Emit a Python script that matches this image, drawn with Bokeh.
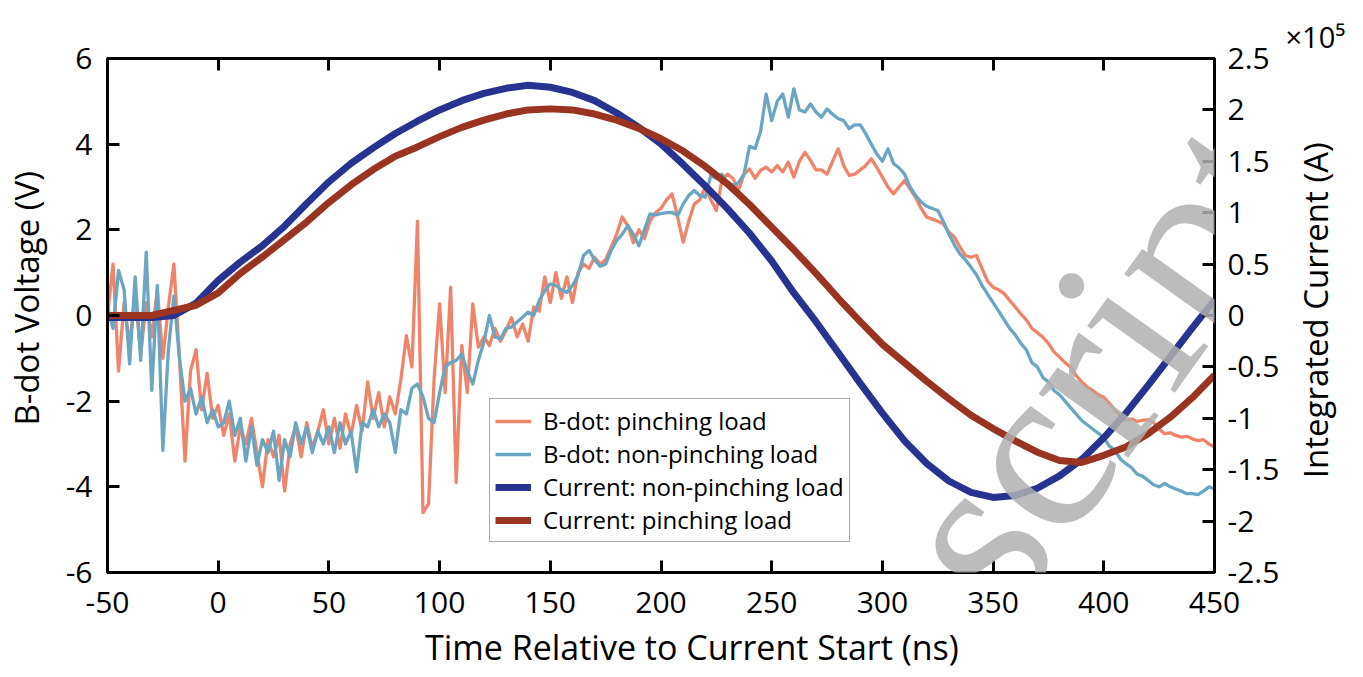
import math
import numpy as np
from bokeh.plotting import figure
from bokeh.models import (Range1d, LinearAxis, FixedTicker, Legend, LegendItem,
                          Label, Title, CustomJSTickFormatter)
from bokeh.embed import file_html
from bokeh.resources import INLINE

# ---------------- data ----------------
# B-dot signals, sampled every 2.5 ns starting at -50 ns (V)
bdot_pinch = [
    0.0, 1.2, -1.3, 0.3, -0.7, 0.5, -0.9, 0.3, -0.5, 0.6, -1.0, 0.2, 1.2, -1.0, -3.4, -1.3, -0.8, -2.2, -1.35, -2.4, -2.1,
    -2.8, -2.3, -3.4, -2.6, -3.0, -2.4, -3.2, -4.0, -2.9, -3.3, -2.8, -4.1, -3.0, -2.6, -3.3, -2.5, -3.1, -2.7, -2.2, -3.0,
    -2.4, -3.1, -2.3, -2.8, -2.1, -2.7, -1.55, -2.4, -1.8, -2.6, -1.9, -2.3, -1.5, -0.47, -1.2, 2.2, -4.6, -4.4, -1.5, 0.27,
    -1.8, 0.66, -3.9, -0.7, -1.8, 0.27, -0.74, -0.5, -0.7, -0.3, -0.6, -0.35, -0.05, -0.5, -0.2, -0.6, 0.2, 0.1, 0.9, 0.3,
    1.0, 0.4, 0.9, 0.3, 1.0, 1.2, 1.1, 1.36, 1.2, 1.3, 1.6, 1.9, 2.3, 2.1, 1.7, 2.0, 1.8, 2.2, 2.4, 2.5,
    2.7, 2.84, 2.3, 1.71, 2.2, 2.6, 2.7, 3.0, 2.7, 2.45, 3.15, 3.3, 3.2, 2.92, 3.3, 3.42, 3.2, 3.39, 3.46, 3.35,
    3.5, 3.35, 3.58, 3.23, 3.6, 3.81, 3.62, 3.4, 3.4, 3.3, 3.6, 3.89, 3.5, 3.27, 3.3, 3.4, 3.5, 3.66, 3.45, 3.23,
    3.0, 2.84, 3.0, 3.15, 2.95, 2.76, 2.5, 2.3, 2.25, 2.2, 2.14, 1.95, 1.83, 1.6, 1.4, 1.36, 1.4, 1.1, 0.8, 0.66,
    0.6, 0.51, 0.35, 0.2, 0.04, -0.1, -0.3, -0.4, -0.51, -0.65, -0.85, -0.97, -1.1, -1.21, -1.4, -1.55, -1.67, -1.75, -1.85, -1.91,
    -2.05, -2.2, -2.35, -2.45, -2.42, -2.47, -2.45, -2.43, -2.5, -2.65, -2.76, -2.74, -2.8, -2.84, -2.82, -2.88, -2.92, -2.9, -3.0, -3.07,
]
bdot_nonpinch = [
    0.2, -0.3, 1.05, 0.6, -1.13, 0.9, -1.05, 1.48, -1.75, 0.7, -3.15, -0.8, 0.45, -1.0, -2.0, -1.7, -2.3, -1.9, -2.5, -2.2, -2.6,
    -2.5, -2.0, -2.8, -2.4, -3.4, -2.6, -3.5, -2.9, -3.2, -2.7, -3.85, -2.9, -3.3, -2.5, -3.0, -2.6, -3.2, -2.7, -3.0, -2.6,
    -3.2, -2.5, -3.0, -2.7, -3.65, -2.5, -2.6, -2.2, -2.6, -2.3, -2.5, -3.2, -2.2, -2.3, -1.7, -1.6, -1.9, -2.4, -2.5, -1.8,
    -1.2, -1.1, -1.05, -0.9, -1.3, -1.6, -1.05, -0.62, 0.0, -0.5, -0.55, -0.3, -0.27, -0.15, -0.04, 0.08, 0.0, 0.35, 0.58, 0.74,
    0.7, 0.6, 0.54, 0.7, 0.93, 1.4, 1.52, 1.3, 1.15, 1.2, 1.52, 1.75, 1.9, 2.1, 1.9, 1.63, 2.0, 2.37, 2.35, 2.38,
    2.4, 2.41, 2.33, 2.6, 2.8, 2.92, 2.8, 2.76, 3.27, 3.2, 3.3, 3.1, 3.04, 3.1, 3.3, 3.95, 3.9, 4.3, 5.17, 4.55,
    5.0, 5.17, 4.63, 5.29, 4.8, 4.75, 4.94, 4.75, 4.63, 4.82, 4.7, 4.6, 4.55, 4.36, 4.45, 4.45, 4.24, 4.0, 3.77, 3.6,
    3.89, 3.55, 3.45, 3.3, 3.0, 2.8, 2.65, 2.55, 2.5, 2.45, 2.2, 1.9, 1.65, 1.44, 1.3, 1.13, 0.95, 0.7, 0.5, 0.3,
    0.1, -0.1, -0.3, -0.45, -0.65, -0.8, -1.1, -1.2, -1.45, -1.55, -1.75, -1.85, -2.0, -2.15, -2.3, -2.45, -2.55, -2.65, -2.75, -2.85,
    -3.05, -3.15, -3.35, -3.46, -3.55, -3.7, -3.75, -3.85, -3.95, -4.0, -3.92, -4.0, -4.05, -4.1, -4.16, -4.16, -4.18, -4.1, -4.0, -4.05,
]
# Integrated currents, sampled every 10 ns starting at -50 ns (x1e5 A)
cur_nonpinch = [
    -0.02, -0.02, -0.02, 0.0, 0.12, 0.34, 0.52, 0.68, 0.87, 1.09, 1.30,
    1.48, 1.63, 1.77, 1.89, 2.00, 2.09, 2.16, 2.21, 2.24, 2.22,
    2.17, 2.09, 1.97, 1.83, 1.67, 1.47, 1.26, 1.04, 0.80, 0.53,
    0.22, -0.06, -0.36, -0.66, -0.95, -1.22, -1.44, -1.61, -1.72, -1.77,
    -1.75, -1.68, -1.56, -1.40, -1.19, -0.95, -0.68, -0.40, -0.12, 0.15,
]
cur_pinch = [
    0.0, 0.0, 0.0, 0.05, 0.10, 0.22, 0.41, 0.57, 0.74, 0.91, 1.10,
    1.27, 1.42, 1.55, 1.64, 1.74, 1.83, 1.90, 1.96, 2.00, 2.01,
    2.00, 1.96, 1.90, 1.82, 1.72, 1.60, 1.45, 1.28, 1.08, 0.86,
    0.64, 0.41, 0.17, -0.06, -0.28, -0.46, -0.64, -0.81, -0.97, -1.10,
    -1.22, -1.33, -1.41, -1.43, -1.36, -1.28, -1.15, -0.99, -0.80, -0.58,
]
x_ticks = [-50, 0, 50, 100, 150, 200, 250, 300, 350, 400, 450]
v_ticks = [-6, -4, -2, 0, 2, 4, 6]
i_ticks = [-2.5, -2, -1.5, -1, -0.5, 0, 0.5, 1, 1.5, 2, 2.5]

t_bdot_p = -50 + 2.5 * np.arange(len(bdot_pinch))
t_bdot_n = -50 + 2.5 * np.arange(len(bdot_nonpinch))
t_cur_n = -50 + 10.0 * np.arange(len(cur_nonpinch))
t_cur_p = -50 + 10.0 * np.arange(len(cur_pinch))

# ---------------- styles ----------------
FONT = "Open Sans"
C_BP = "#F0846A"
C_BN = "#6AA5C2"
C_CN = "#283390"
C_CP = "#98341F"
NB = "\u00a0"

p = figure(width=1363, height=677, output_backend="svg", toolbar_location=None,
           x_range=Range1d(-50, 450), y_range=Range1d(-6, 6),
           min_border_left=105, min_border_right=148, min_border_top=58, min_border_bottom=105)
p.extra_y_ranges = {"cur": Range1d(-2.5, 2.5)}
p.grid.visible = False
p.outline_line_color = "black"
p.outline_line_width = 3
p.background_fill_color = "white"
p.border_fill_color = "white"

fmt = CustomJSTickFormatter(code="return tick.toString();")

def style_axis(ax, ticks, standoff):
    ax.ticker = FixedTicker(ticks=ticks)
    ax.formatter = fmt
    ax.axis_line_width = 3
    ax.axis_line_color = "black"
    ax.major_tick_line_width = 3
    ax.major_tick_in = 12
    ax.major_tick_out = 0
    ax.minor_tick_line_color = None
    ax.major_label_text_font = FONT
    ax.major_label_text_font_size = "30px"
    ax.major_label_text_color = "black"
    ax.major_label_standoff = standoff
    ax.axis_label_text_font = FONT
    ax.axis_label_text_font_size = "33px"
    ax.axis_label_text_font_style = "normal"
    ax.axis_label_text_color = "black"

xa = p.xaxis[0]
style_axis(xa, x_ticks, 19)
xa.axis_label = NB * 7 + "Time Relative to Current Start (ns)"
xa.axis_label_text_font_size = "34px"
xa.axis_label_standoff = 8

ya = p.yaxis[0]
style_axis(ya, v_ticks, 15)
ya.axis_label = NB * 4 + "B-dot Voltage (V)"
ya.axis_label_standoff = 14

ra = LinearAxis(y_range_name="cur")
style_axis(ra, i_ticks, 13)
ra.axis_label_standoff = 33
try:
    ra.axis_label_align = "start"
    ra.axis_label_orientation = math.pi / 2
    ra.axis_label = NB * 11 + "Integrated Current (A)"
except Exception:
    ra.axis_label = "Integrated Current (A)"
p.add_layout(ra, "right")

ta = LinearAxis()
style_axis(ta, x_ticks, 0)
ta.major_label_text_font_size = "0px"
ta.major_label_text_color = None
p.add_layout(ta, "above")

# exponent marker for the right axis
p.add_layout(Title(text="\u00d710\u2075", align="left", offset=1178,
                   text_font=FONT, text_font_size="29px", text_font_style="normal",
                   text_color="black", standoff=6), "above")

r_bp = p.line(t_bdot_p, bdot_pinch, line_color=C_BP, line_width=3.3, line_join="round")
r_bn = p.line(t_bdot_n, bdot_nonpinch, line_color=C_BN, line_width=3.3, line_join="round")
r_cn = p.line(t_cur_n, cur_nonpinch, y_range_name="cur", line_color=C_CN, line_width=7)
r_cp = p.line(t_cur_p, cur_pinch, y_range_name="cur", line_color=C_CP, line_width=7)

legend = Legend(items=[
    LegendItem(label="B-dot: pinching load", renderers=[r_bp]),
    LegendItem(label="B-dot: non-pinching load", renderers=[r_bn]),
    LegendItem(label="Current: non-pinching load", renderers=[r_cn]),
    LegendItem(label="Current: pinching load", renderers=[r_cp]),
], location=(382, 30))
legend.label_text_font = FONT
legend.label_text_font_size = "24px"
legend.label_text_color = "black"
legend.label_standoff = 12
legend.glyph_width = 36
legend.glyph_height = 20
legend.label_height = 28
legend.spacing = 0
legend.padding = 5
legend.margin = 0
legend.border_line_color = "#555555"
legend.border_line_width = 1.5
legend.background_fill_color = "white"
legend.background_fill_alpha = 1.0
p.add_layout(legend, "center")

# diagonal watermark (only its visible tail lies on the page)
p.add_layout(Label(x=1146, y=429, x_units="screen", y_units="screen", text="script",
                   angle=0.95, text_font="Liberation Serif", text_font_size="240px",
                   text_color="#b0b0b0", text_alpha=0.85,
                   text_align="right", text_baseline="alphabetic"))

open("out.html", "w").write(file_html(p, INLINE))
